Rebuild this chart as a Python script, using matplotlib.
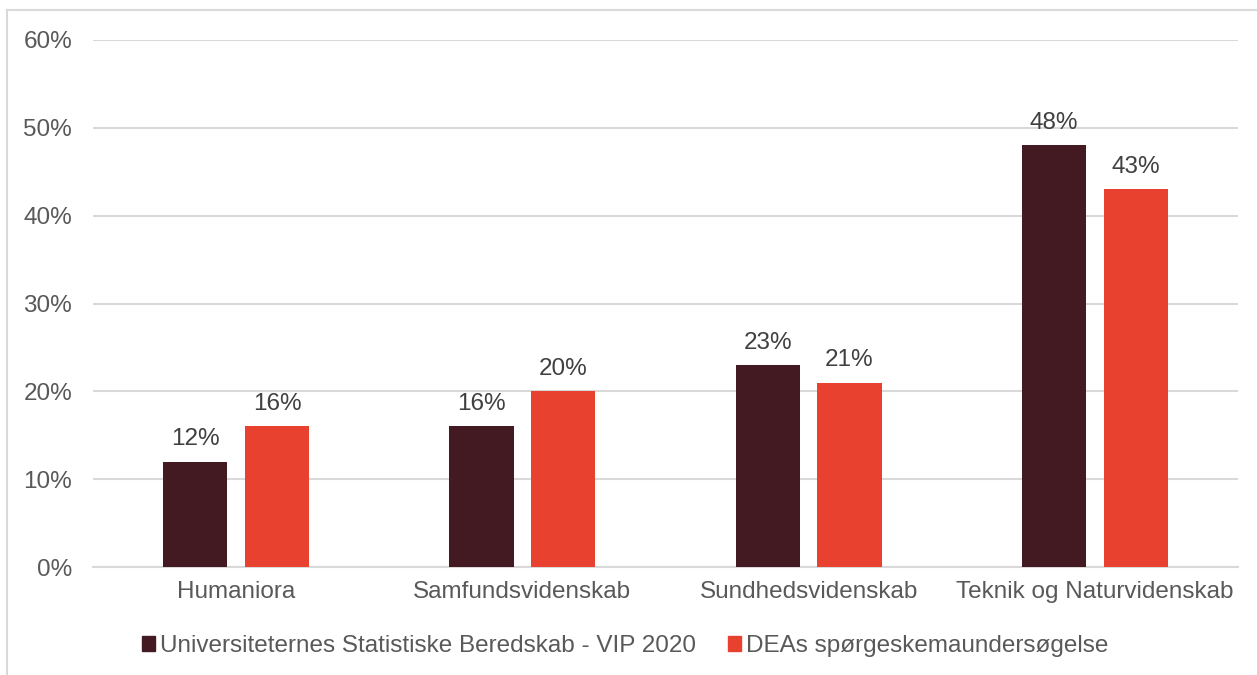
import matplotlib.pyplot as plt
from matplotlib.lines import Line2D
from matplotlib.patches import Patch
import numpy as np

plt.rcParams['font.family'] = ['Liberation Sans', 'DejaVu Sans']

categories = ['Humaniora', 'Samfundsvidenskab', 'Sundhedsvidenskab', 'Teknik og Naturvidenskab']
series_names = ['Universiteternes Statistiske Beredskab - VIP 2020', 'DEAs spørgeskemaundersøgelse']
vip_2020 = [12, 16, 23, 48]
dea_survey = [16, 20, 21, 43]
colors = ['#431A22', '#E94130']
text_col = '#595959'
label_col = '#404040'
grid_col = '#D9D9D9'

W, H = 1257, 675
fig = plt.figure(figsize=(W / 100, H / 100), dpi=100)
ax = fig.add_axes([93 / W, 1 - 567 / H, (1238 - 93) / W, (567 - 40) / H])

x = np.arange(len(categories))
bw = 0.224
off = 0.143
for vals, dx, c in [(vip_2020, -off, colors[0]), (dea_survey, off, colors[1])]:
    bars = ax.bar(x + dx, vals, bw, color=c, zorder=3)
    for b, v in zip(bars, vals):
        ax.text(b.get_x() + b.get_width() / 2, v + 1.3, f'{v}%', ha='center', va='bottom',
                fontsize=17.5, color=label_col)

ax.set_xlim(-0.5, 3.5)
ax.set_ylim(0, 60)
ax.set_yticks(range(0, 61, 10))
ax.set_yticklabels([f'{t}%' for t in range(0, 61, 10)])
ax.set_xticks(x)
ax.set_xticklabels(categories)
ax.grid(axis='y', color=grid_col, lw=1.5, zorder=0)
for s in ['top', 'right', 'left']:
    ax.spines[s].set_visible(False)
ax.spines['bottom'].set_color(grid_col)
ax.spines['bottom'].set_linewidth(1.5)
ax.tick_params(axis='both', length=0, labelsize=17.5, colors=text_col)
ax.tick_params(axis='y', pad=15)
ax.tick_params(axis='x', pad=10)

handles = [Patch(color=c) for c in colors]
leg = fig.legend(handles, series_names, loc='center', bbox_to_anchor=(625 / W, 1 - 646 / H),
                 ncol=2, frameon=False, fontsize=17.5, handlelength=0.55, handleheight=0.55,
                 handletextpad=0.2, columnspacing=1.3, labelcolor=text_col)

# outer chart frame (top and left edges visible)
fig.add_artist(Line2D([7 / W, 7 / W], [0, 1 - 10 / H], transform=fig.transFigure, color=grid_col, lw=1.5))
fig.add_artist(Line2D([7 / W, 1], [1 - 10 / H, 1 - 10 / H], transform=fig.transFigure, color=grid_col, lw=1.5))

fig.savefig('out.png', dpi=100)
